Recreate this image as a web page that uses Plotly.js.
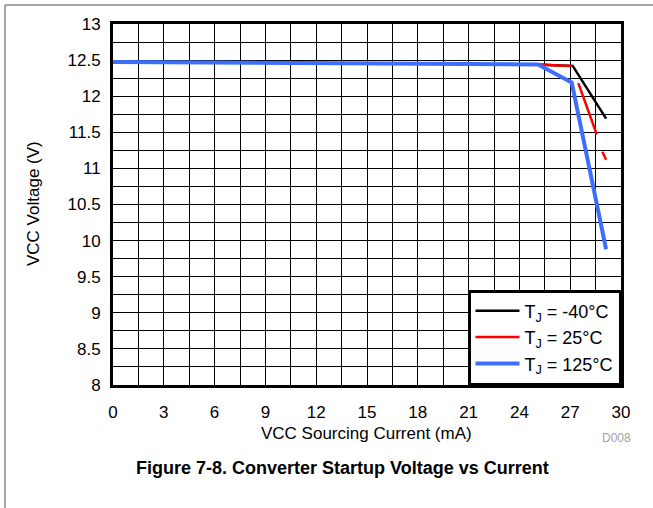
<!DOCTYPE html>
<html>
<head>
<meta charset="utf-8">
<script src="https://cdn.plot.ly/plotly-3.0.1.min.js"></script>
<style>
html,body{margin:0;padding:0;background:#fff;}
#chart{width:653px;height:508px;}
</style>
</head>
<body>
<div id="chart"></div>
<script>
// Data
const seriesNames = ['T<sub>J</sub> = -40°C', 'T<sub>J</sub> = 25°C', 'T<sub>J</sub> = 125°C'];
const xBlack = [0, 5, 10, 15, 20, 22.5, 25, 27.15, 29.12];
const yBlack = [12.475, 12.47, 12.465, 12.46, 12.455, 12.45, 12.44, 12.42, 11.69];
const xRed = [0, 5, 10, 15, 20, 22.5, 25, 27.1, null, 27.48, 28.57, null, 28.9, 29.12];
const yRed = [12.475, 12.47, 12.465, 12.46, 12.455, 12.45, 12.44, 12.42, null, 12.18, 11.47, null, 11.23, 11.12];
const xBlue = [0, 5, 10, 15, 20, 22.5, 25.1, 27.09, 29.12];
const yBlue = [12.475, 12.47, 12.465, 12.46, 12.455, 12.45, 12.44, 12.19, 9.88];
const xTicks = [0, 3, 6, 9, 12, 15, 18, 21, 24, 27, 30];
const yTicks = [8, 8.5, 9, 9.5, 10, 10.5, 11, 11.5, 12, 12.5, 13];

const W = 653, H = 508;
const L = 113, R = 621, T = 24, B = 385;
const pw = R - L, ph = B - T;
const px = v => (v - L) / pw;
const py = v => (B - v) / ph;

const font = 'Liberation Sans, Arial, Helvetica, sans-serif';

const traces = [
  {x: xBlack, y: yBlack, name: seriesNames[0], mode: 'lines', line: {color: '#000000', width: 2.5}, connectgaps: false},
  {x: xRed, y: yRed, name: seriesNames[1], mode: 'lines', line: {color: '#ff0000', width: 2.5}, connectgaps: false},
  {x: xBlue, y: yBlue, name: seriesNames[2], mode: 'lines', line: {color: '#3d6fff', width: 4}, connectgaps: false}
];

const gridCol = '#000000';
const layout = {
  width: W, height: H,
  margin: {l: L, r: W - R, t: T, b: H - B, pad: 0},
  paper_bgcolor: '#fff', plot_bgcolor: '#fff',
  font: {family: font, size: 17, color: '#000'},
  showlegend: true,
  legend: {
    x: px(468), y: py(290), xanchor: 'left', yanchor: 'top',
    bgcolor: '#fff', bordercolor: '#000', borderwidth: 2.5,
    font: {family: font, size: 18, color: '#000'},
    tracegroupgap: 0, itemwidth: 44
  },
  xaxis: {
    range: [0, 30], tickmode: 'array', tickvals: xTicks, ticktext: xTicks.map(String),
    showgrid: true, gridcolor: gridCol, gridwidth: 1,
    minor: {dtick: 1.5, tick0: 0, showgrid: true, gridcolor: gridCol, gridwidth: 1},
    showline: true, linecolor: '#000', linewidth: 3, mirror: true,
    ticks: 'outside', ticklen: 10, tickcolor: 'rgba(0,0,0,0)',
    zeroline: false, tickfont: {family: font, size: 17}
  },
  yaxis: {
    range: [8, 13], tickmode: 'array', tickvals: yTicks, ticktext: yTicks.map(String),
    showgrid: true, gridcolor: gridCol, gridwidth: 1,
    minor: {dtick: 0.25, tick0: 8, showgrid: true, gridcolor: gridCol, gridwidth: 1},
    showline: true, linecolor: '#000', linewidth: 3, mirror: true,
    ticks: 'outside', ticklen: 6, tickcolor: 'rgba(0,0,0,0)',
    zeroline: false, tickfont: {family: font, size: 17}
  },
  shapes: [
    {type: 'line', xref: 'paper', yref: 'paper', x0: px(5), x1: px(5), y0: py(5), y1: py(520), line: {color: '#8a8a8a', width: 1.5}},
    {type: 'line', xref: 'paper', yref: 'paper', x0: px(5), x1: px(670), y0: py(5), y1: py(5), line: {color: '#8a8a8a', width: 1.5}}
  ],
  annotations: [
    {text: 'VCC Voltage (V)', xref: 'paper', yref: 'paper', x: px(33), y: py(204), textangle: -90,
     showarrow: false, xanchor: 'center', yanchor: 'middle', font: {family: font, size: 17, color: '#000'}},
    {text: 'VCC Sourcing Current (mA)', xref: 'paper', yref: 'paper', x: px(366), y: py(433),
     showarrow: false, xanchor: 'center', yanchor: 'middle', font: {family: font, size: 17, color: '#000'}},
    {text: 'D008', xref: 'paper', yref: 'paper', x: px(633), y: py(438),
     showarrow: false, xanchor: 'right', yanchor: 'middle', font: {family: font, size: 12, color: '#a0a0a0'}},
    {text: '<b>Figure 7-8. Converter Startup Voltage vs Current</b>', xref: 'paper', yref: 'paper', x: px(342), y: py(468),
     showarrow: false, xanchor: 'center', yanchor: 'middle', font: {family: font, size: 18, color: '#000'}}
  ]
};

Plotly.newPlot('chart', traces, layout, {displayModeBar: false, staticPlot: true});
</script>
</body>
</html>
